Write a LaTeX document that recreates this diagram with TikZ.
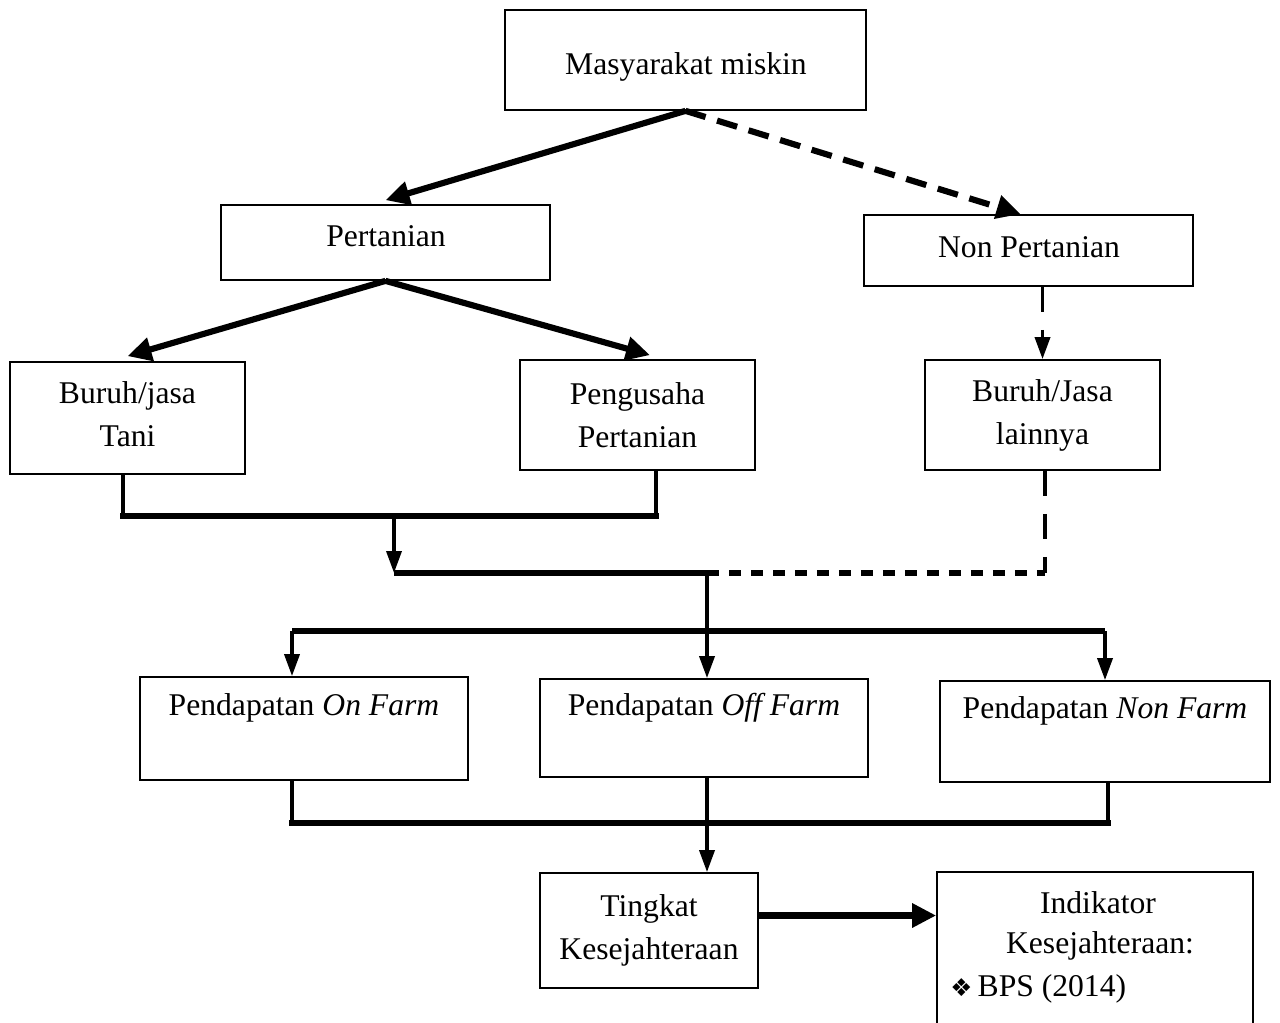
\documentclass[tikz,border=0pt]{standalone}
\usepackage{fontspec}
\setmainfont{Liberation Serif}
\newfontfamily\symfont{DejaVu Sans}
\usetikzlibrary{arrows.meta}
\begin{document}
\begin{tikzpicture}[x=0.02cm,y=-0.02cm,
  box/.style={draw,line width=1pt,inner sep=0pt,align=center,font=\fontsize{18}{24.5}\selectfont},
  txt/.style={inner sep=0pt,align=center,font=\fontsize{18}{24.5}\selectfont},
  fat/.style={line width=3.5pt},
  mid/.style={line width=2pt},
  fatarrow/.style={-{Triangle[length=0.48cm,width=0.46cm]}},
  midarrow/.style={-{Triangle[length=0.44cm,width=0.3cm]}},
  longdash/.style={dash pattern=on 0.42cm off 0.24cm},
  shortdash/.style={dash pattern=on 0.24cm off 0.2cm},
  vdash/.style={dash pattern=on 0.5cm off 0.36cm}
]
\useasboundingbox (0,0) rectangle (1280,1023);
\fill[white] (0,0) rectangle (1280,1023);

% boxes
\node[box,minimum width=7.22cm,minimum height=2cm] (top) at (685.5,60) {};
\node[txt] (topT) at (686,67) {Masyarakat miskin};
\node[box,minimum width=6.58cm,minimum height=1.5cm] (pert) at (385.5,242.5) {};
\node[txt] (pertT) at (386,236) {Pertanian};
\node[box,minimum width=6.58cm,minimum height=1.42cm] (nonp) at (1028.5,250.5) {};
\node[txt] (nonpT) at (1029,247) {Non Pertanian};
\node[box,minimum width=4.7cm,minimum height=2.24cm] (buruh) at (127.5,418) {};
\node[txt] (buruhT) at (127.5,414) {Buruh/jasa\\Tani};
\node[box,minimum width=4.7cm,minimum height=2.2cm] (peng) at (637.5,415) {Pengusaha\\Pertanian};
\node[box,minimum width=4.7cm,minimum height=2.2cm] (lain) at (1042.5,415) {Buruh/Jasa\\lainnya};

\node[box,minimum width=6.56cm,minimum height=2.06cm] (on) at (304,728.5) {};
\node[txt] (onT) at (304,708) {Pendapatan \textit{On Farm}};
\node[box,minimum width=6.56cm,minimum height=1.96cm] (off) at (704,728) {};
\node[txt] (offT) at (704,708) {Pendapatan \textit{Off Farm}};
\node[box,minimum width=6.6cm,minimum height=2.02cm] (nonf) at (1105,731.5) {};
\node[txt] (nonfT) at (1105,711) {Pendapatan \textit{Non Farm}};

\node[box,minimum width=4.36cm,minimum height=2.3cm] (ting) at (649,930.5) {Tingkat\\Kesejahteraan};
\node[box,minimum width=6.32cm,minimum height=4.56cm] (indik) at (1095,986) {};
\node[txt] (indT1) at (1098,903) {Indikator};
\node[txt] (indT2) at (1100,946) {Kesejahteraan:};
\node[txt,anchor=west] (indT3) at (950,989) {{\symfont\fontsize{14}{16}\selectfont ❖}\,BPS (2014)};

% top connectors
\draw[fat,fatarrow] (top.south) -- ([yshift=0.08cm]pert.north);
\draw[fat,fatarrow,longdash] (top.south) -- ([xshift=-0.16cm]nonp.north);
\draw[fat,fatarrow] (pert.south) -- ([yshift=0.1cm]buruh.north);
\draw[fat,fatarrow] (pert.south) -- ([xshift=0.25cm,yshift=0.08cm]peng.north);
\draw[mid,midarrow,vdash] (lain.north |- nonp.south) -- (lain.north);

% merge of agricultural branches
\coordinate (jL) at (123,516);
\coordinate (jR) at (656,516);
\coordinate (jM) at (394,516);
\draw[mid] (buruh.south -| jL) -- (jL);
\draw[mid] (peng.south -| jR) -- (jR);
\draw[fat,line cap=rect] (jL) -- (jR);
\coordinate (m1) at (394,573);
\coordinate (m2) at (707,573);
\coordinate (m3) at (1045,573);
\draw[mid,midarrow] (jM) -- (m1);
\draw[fat] (m1) -- (m2);
\draw[fat,shortdash] (m2) -- (m3);
\draw[mid,vdash] (lain.south -| m3) -- (m3);
\draw[mid,midarrow] (m2) -- (m2 |- off.north);

% distribution to incomes
\coordinate (bL) at (292,631);
\coordinate (bR) at (1105,631);
\draw[fat] (bL) -- (bR);
\draw[mid,midarrow] (bL) -- (bL |- on.north);
\draw[mid,midarrow] (bR) -- (bR |- nonf.north);

% merge of incomes
\coordinate (cL) at (292,823);
\coordinate (cR) at (1108,823);
\coordinate (cM) at (707,823);
\draw[mid] (on.south -| cL) -- (cL);
\draw[mid] (nonf.south -| cR) -- (cR);
\draw[fat,line cap=rect] (cL) -- (cR);
\draw[mid,midarrow] (off.south -| cM) -- (cM |- ting.north);

% to indicators
\coordinate (a1) at ([yshift=0.3cm]ting.east);
\draw[fat,fatarrow] (a1) -- (a1 -| indik.west);
\end{tikzpicture}
\end{document}
